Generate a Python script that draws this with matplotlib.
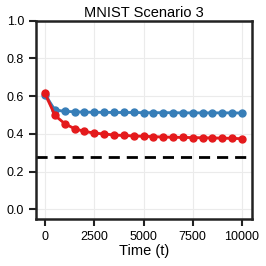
import matplotlib
matplotlib.use("Agg")
import matplotlib.pyplot as plt
import numpy as np

plt.rcParams['font.family'] = ['Liberation Sans', 'DejaVu Sans']

steps = list(range(0, 10001, 500))
blue_vals = [0.608, 0.528, 0.520, 0.518, 0.516, 0.515, 0.515, 0.514, 0.514, 0.514, 0.513,
             0.513, 0.513, 0.513, 0.512, 0.512, 0.512, 0.512, 0.512, 0.512, 0.511]
red_vals = [0.617, 0.499, 0.455, 0.428, 0.414, 0.405, 0.400, 0.395, 0.392, 0.390, 0.388,
            0.386, 0.384, 0.383, 0.382, 0.381, 0.380, 0.379, 0.378, 0.377, 0.375]
blue_err = [0.02, 0.008] + [0.004] * 19
red_err = [0.03, 0.01] + [0.005] * 19
baseline = 0.28
title = "MNIST Scenario 3"
xlabel = "Time (t)"
xticks = [0, 2500, 5000, 7500, 10000]
yticks = [0.0, 0.2, 0.4, 0.6, 0.8, 1.0]

blue = '#377eb8'
red = '#e41a1c'

fig = plt.figure(figsize=(2.66, 2.66), dpi=100)
ax = fig.add_axes([0.135, 0.177, 0.812, 0.745])

x = np.array(steps)
for vals, err, c in [(blue_vals, blue_err, blue), (red_vals, red_err, red)]:
    v = np.array(vals); e = np.array(err)
    ax.fill_between(x, v - e, v + e, color=c, alpha=0.3, lw=0)
    ax.plot(x, v, color=c, lw=2, marker='o', ms=5)

ax.axhline(baseline, color='black', ls='--', lw=2, dashes=(4, 2.5))

ax.set_xlim(-460, 10500)
ax.set_ylim(-0.05, 1.0)
ax.set_xticks(xticks)
ax.set_yticks(yticks)
ax.set_yticklabels([f"{t:.1f}" for t in yticks])
ax.grid(True, color='#ebebeb', lw=0.8)
ax.set_axisbelow(True)
for s in ax.spines.values():
    s.set_linewidth(1.8)
    s.set_color('#222222')
ax.tick_params(width=1.5, length=5, labelsize=9, color='#222222')
ax.set_title(title, fontsize=10.5, pad=3)
ax.set_xlabel(xlabel, fontsize=10.5, labelpad=1)

fig.savefig("out.png", dpi=100)
